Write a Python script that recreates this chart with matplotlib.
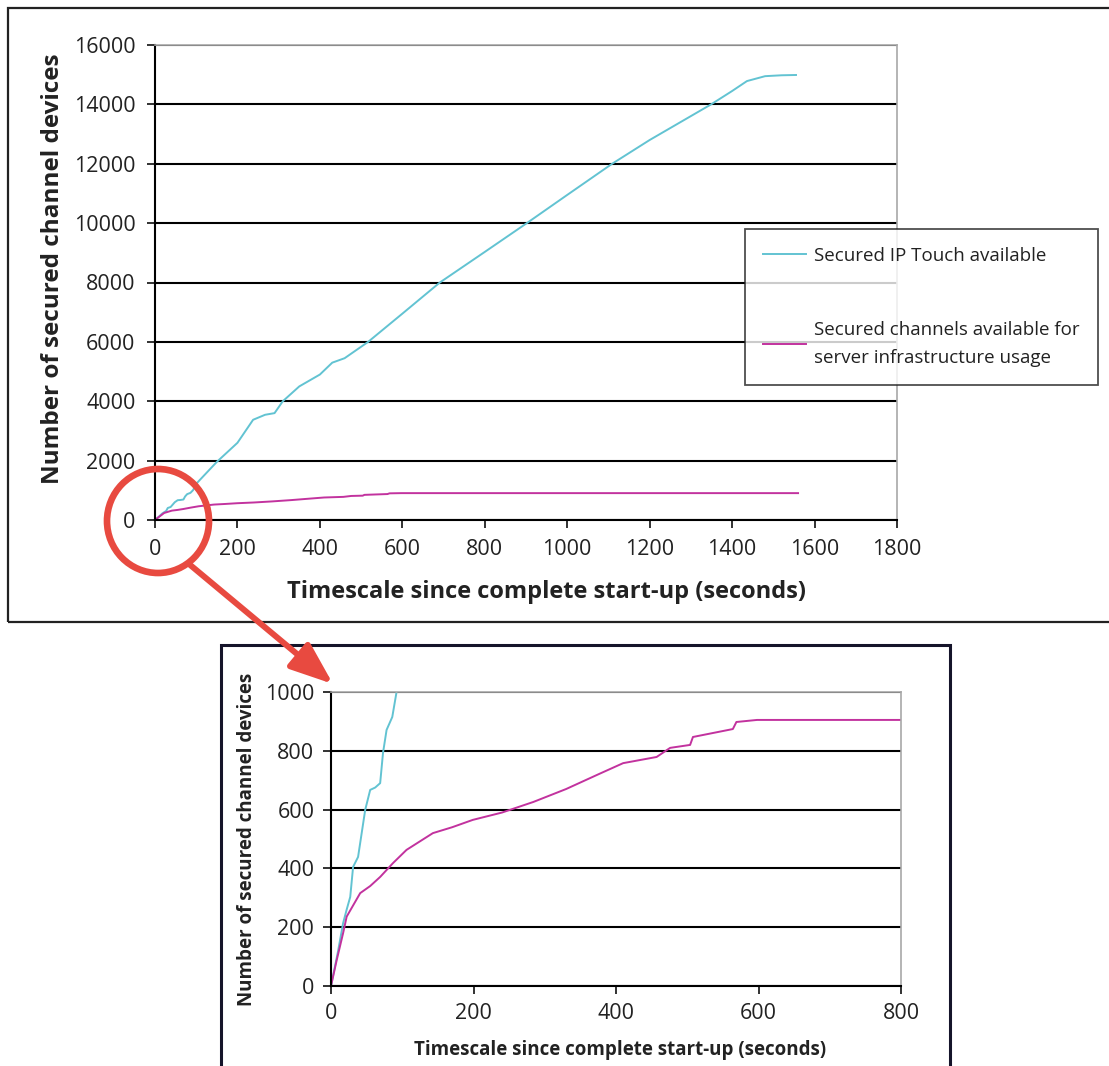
import matplotlib
matplotlib.use("Agg")
import matplotlib.pyplot as plt
from matplotlib.patches import Rectangle, Ellipse, FancyArrowPatch

# secured IP Touch devices over time (seconds, count)
touch_t = [0, 5, 10, 17, 22, 27, 31, 38, 48, 55, 62, 69, 73, 78, 86, 92, 102,
           150, 200, 238, 267, 290, 310, 350, 400, 430, 460, 517, 600, 691,
           800, 902, 1000, 1109, 1200, 1349, 1400, 1436, 1480, 1520, 1555]
touch_n = [0, 60, 120, 214, 260, 303, 405, 439, 599, 667, 675, 690, 793, 871,
           915, 1000, 1249, 1958, 2600, 3376, 3544, 3600, 4000, 4500, 4900,
           5300, 5450, 6000, 6950, 8000, 9030, 10000, 10950, 12000, 12800,
           14000, 14450, 14785, 14950, 14980, 14990]

# secured channels for server infrastructure
chan_t = [0, 8, 17, 22, 41, 55, 69, 87, 106, 143, 170, 199, 240, 284, 330,
          377, 410, 457, 476, 504, 508, 564, 569, 598, 800, 1000, 1560]
chan_n = [0, 88, 180, 236, 316, 340, 371, 418, 463, 520, 540, 565, 590, 626,
          670, 722, 758, 779, 810, 820, 847, 874, 898, 905, 905, 905, 905]

W, H = 1109, 1066
CYAN = "#62c3d2"
MAG = "#c2329e"
RED = "#e84a40"
INK = "#222222"

plt.rcParams["font.family"] = "Open Sans"


def fbox(x0, y0, x1, y1):
    # pixel box (top-left origin) -> figure fraction rect
    return [x0 / W, 1 - y1 / H, (x1 - x0) / W, (y1 - y0) / H]


def style_axes(ax, lab_size, pad):
    ax.spines["top"].set_color("#a8a8a8")
    ax.spines["right"].set_color("#a8a8a8")
    ax.spines["left"].set_linewidth(1.5)
    ax.spines["bottom"].set_linewidth(1.5)
    ax.spines["top"].set_linewidth(1.2)
    ax.spines["right"].set_linewidth(1.2)
    ax.yaxis.grid(True, color="black", linewidth=1.5)
    ax.set_axisbelow(True)
    ax.tick_params(direction="out", length=6, width=1.3, pad=pad,
                   labelsize=lab_size, colors=INK)


fig = plt.figure(figsize=(W / 100, H / 100), dpi=100)

# outer frames
fig.add_artist(Rectangle((8 / W, 1 - 622 / H), 1.2, (622 - 8) / H,
                         transform=fig.transFigure, fill=False,
                         edgecolor=INK, linewidth=1.6, zorder=0.5))
fig.add_artist(Rectangle((221 / W, -0.05), (950 - 221) / W, 0.05 + 1 - 645 / H,
                         transform=fig.transFigure, fill=False,
                         edgecolor="#15142a", linewidth=2.2, zorder=0.5))

# main chart
ax = fig.add_axes(fbox(155, 45, 897, 520))
ax.plot(touch_t, touch_n, color=CYAN, linewidth=1.4,
        label="Secured IP Touch available")
ax.plot(chan_t, chan_n, color=MAG, linewidth=1.4,
        label="Secured channels available for\nserver infrastructure usage")
ax.set_xlim(0, 1800)
ax.set_ylim(0, 16000)
ax.set_xticks(range(0, 1801, 200))
ax.set_yticks(range(0, 16001, 2000))
style_axes(ax, 15.5, 8)
ax.set_xlabel("Timescale since complete start-up (seconds)", fontsize=17,
              fontweight="bold", color=INK)
ax.xaxis.set_label_coords(0.528, -0.152)
ax.xaxis.label.set_verticalalignment("center")
ax.set_ylabel("Number of secured channel devices", fontsize=17.5,
              fontweight="bold", color=INK)
ax.yaxis.set_label_coords(-0.138, 0.53)
ax.yaxis.label.set_verticalalignment("center")

leg = fig.legend(loc="upper left", bbox_to_anchor=(745 / W, 1 - 229 / H),
                 frameon=True, fancybox=False, fontsize=13.5,
                 handlelength=2.3, handletextpad=0.45, labelspacing=3.0,
                 borderpad=0.95, borderaxespad=0)
leg.get_frame().set_edgecolor(INK)
leg.get_frame().set_linewidth(1.3)
for t in leg.get_texts():
    t.set_color(INK)
    t.set_linespacing(1.7)

# inset chart
ax2 = fig.add_axes(fbox(331, 692, 901, 986))
ax2.plot(touch_t, touch_n, color=CYAN, linewidth=1.4)
ax2.plot(chan_t, chan_n, color=MAG, linewidth=1.4)
ax2.set_xlim(0, 800)
ax2.set_ylim(0, 1000)
ax2.set_xticks(range(0, 801, 200))
ax2.set_yticks(range(0, 1001, 200))
style_axes(ax2, 15.5, 6)
ax2.set_xlabel("Timescale since complete start-up (seconds)", fontsize=13.5,
               fontweight="bold", color=INK)
ax2.xaxis.set_label_coords(0.507, -0.218)
ax2.xaxis.label.set_verticalalignment("center")
ax2.set_ylabel("Number of secured channel devices", fontsize=13.5,
               fontweight="bold", color=INK)
ax2.yaxis.set_label_coords(-0.147, 0.5)
ax2.yaxis.label.set_verticalalignment("center")

# zoom marker
fig.add_artist(Ellipse((158 / W, 1 - 521 / H), 2 * 51 / W, 2 * 52 / H,
                       transform=fig.transFigure, fill=False,
                       edgecolor=RED, linewidth=4.8, zorder=5))
fig.add_artist(FancyArrowPatch((189 / W, 1 - 564 / H), (333 / W, 1 - 684 / H),
                               transform=fig.transFigure,
                               arrowstyle="-|>,head_length=1.3,head_width=0.5",
                               mutation_scale=20, color=RED, linewidth=4.3,
                               shrinkA=0, shrinkB=0, zorder=5))

fig.savefig("out.png", dpi=100)
